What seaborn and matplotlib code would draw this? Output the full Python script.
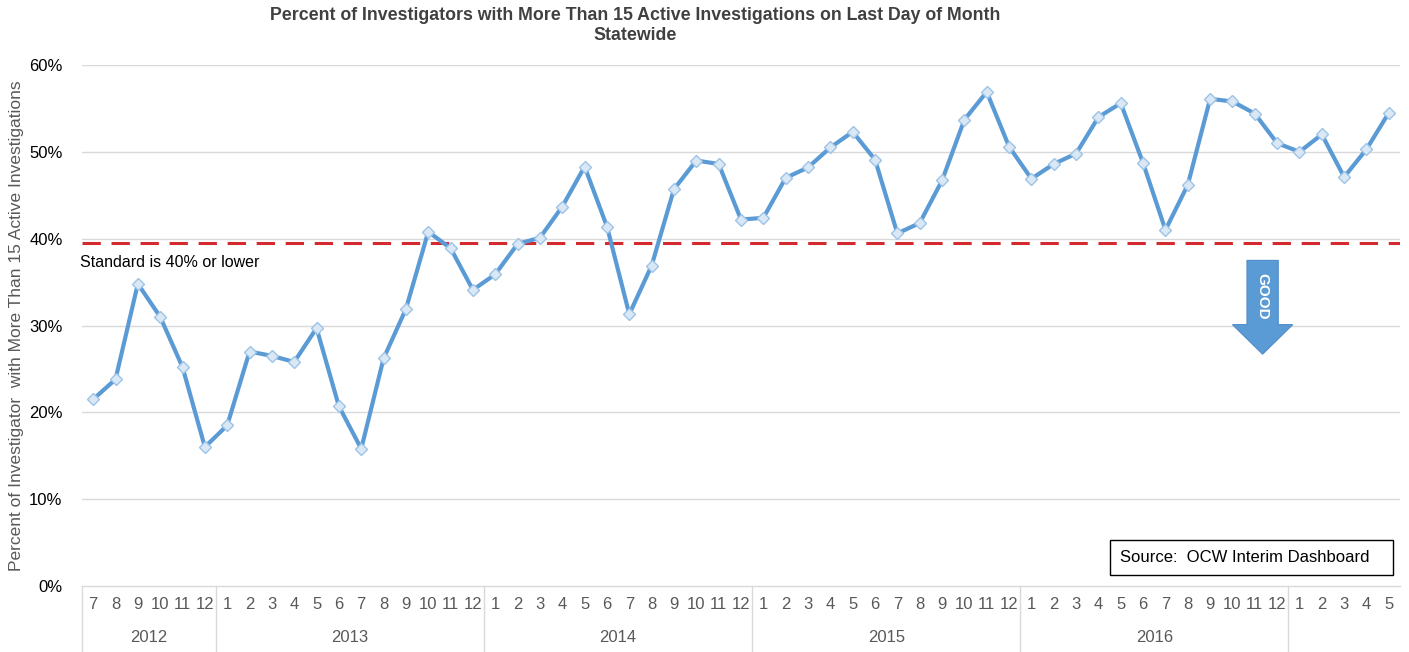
import numpy as np
import pandas as pd
import matplotlib
matplotlib.use("Agg")
import matplotlib.pyplot as plt
import seaborn as sns
from matplotlib.patches import FancyArrow, Rectangle
from matplotlib.transforms import blended_transform_factory

# ---- data ----
years = [2012] * 6 + [2013] * 12 + [2014] * 12 + [2015] * 12 + [2016] * 12 + [2017] * 5
months = list(range(7, 13)) + list(range(1, 13)) * 4 + list(range(1, 6))
pct = [21.5, 23.8, 34.8, 31.0, 25.2, 16.0,
       18.5, 27.0, 26.5, 25.8, 29.7, 20.7, 15.8, 26.2, 31.9, 40.8, 38.9, 34.1,
       35.9, 39.4, 40.1, 43.7, 48.3, 41.4, 31.3, 36.9, 45.7, 49.0, 48.6, 42.2,
       42.4, 47.0, 48.2, 50.5, 52.3, 49.1, 40.6, 41.8, 46.7, 53.7, 56.9, 50.6,
       46.9, 48.6, 49.8, 54.0, 55.6, 48.7, 41.0, 46.2, 56.1, 55.8, 54.4, 51.0,
       50.0, 52.0, 47.1, 50.3, 54.5]
year_labels = ["2012", "2013", "2014", "2015", "2016", ""]
standard = 39.5
yticks = [0, 10, 20, 30, 40, 50, 60]

df = pd.DataFrame({"idx": np.arange(len(pct)), "year": years, "month": months, "pct": pct})

sns.set_theme(style="white")
plt.rcParams["font.family"] = ["Liberation Sans", "DejaVu Sans"]

W, H = 1409, 652
fig = plt.figure(figsize=(W / 100, H / 100), dpi=100)
ax = fig.add_axes([82 / W, 1 - 586 / H, (1400 - 82) / W, (586 - 65) / H])

ax.set_xlim(-0.5, len(pct) - 0.5)
ax.set_ylim(0, 60)
for t in yticks[1:]:
    ax.axhline(t, color="#D9D9D9", lw=1, zorder=0)

ax.axhline(standard, color="#D42A2F", lw=2.2, dashes=(6, 3.5), zorder=2)

sns.lineplot(data=df, x="idx", y="pct", ax=ax, color="#5B9BD5", lw=3,
             marker="D", markersize=6, markerfacecolor="#DAE8F6",
             markeredgecolor="#9DC3E6", markeredgewidth=1, zorder=3)

ax.set_yticks(yticks)
ax.set_yticklabels([f"{t}%" for t in yticks], fontsize=12, color="#000000")
ax.tick_params(axis="y", length=0, pad=14)
ax.set_xticks(df["idx"])
ax.set_xticklabels([str(m) for m in months], fontsize=12, color="#595959")
ax.tick_params(axis="x", length=0, pad=8)
ax.set_xlabel("")
ax.set_ylabel("")
for s in ["top", "right", "left"]:
    ax.spines[s].set_visible(False)
ax.spines["bottom"].set_color("#D9D9D9")
ax.spines["bottom"].set_linewidth(1)

# year grouping
tr = blended_transform_factory(ax.transData, ax.transAxes)
bottom_ext = -(652 - 586) / (586 - 65)
yr_arr = np.array(years)
uniq = []
for y in years:
    if y not in uniq:
        uniq.append(y)
for i, y in enumerate(uniq):
    idxs = np.where(yr_arr == y)[0]
    left = idxs[0] - 0.5
    ax.plot([left, left], [0, bottom_ext], color="#D9D9D9", lw=1, transform=tr, clip_on=False)
    ax.text((idxs[0] + idxs[-1]) / 2, -(638 - 586) / (586 - 65), year_labels[i],
            transform=tr, ha="center", va="center", fontsize=12, color="#595959")

# annotations
ax.text(-0.6, 37.2, "Standard is 40% or lower", fontsize=11.5, color="#000000",
        ha="left", va="center")

arrow = FancyArrow(52.35, 37.5, 0, -10.8, width=1.4, head_width=2.7, head_length=3.4,
                   length_includes_head=True, color="#5B9BD5", ec="#4F8DC9", lw=0.8, zorder=4)
ax.add_patch(arrow)
ax.text(52.35, 33.4, "GOOD", rotation=-90, ha="center", va="center", color="white",
        fontsize=11, fontweight="bold", zorder=5)

# source box (axes fraction coords)
bx0 = (1110 - 82) / (1400 - 82)
bx1 = (1393 - 82) / (1400 - 82)
by0 = (586 - 575) / (586 - 65)
by1 = (586 - 540) / (586 - 65)
ax.add_patch(Rectangle((bx0, by0), bx1 - bx0, by1 - by0, transform=ax.transAxes,
                       fc="white", ec="#000000", lw=1, zorder=5))
ax.text(bx0 + 10 / (1400 - 82), (by0 + by1) / 2, "Source:  OCW Interim Dashboard",
        transform=ax.transAxes, fontsize=12, color="#000000",
        ha="left", va="center", zorder=6)

fig.text(17 / W, 1 - 326 / H, "Percent of Investigator  with More Than 15 Active Investigations",
         rotation=90, ha="center", va="center", fontsize=12.5, color="#595959")
fig.text(635 / W, 1 - 15 / H, "Percent of Investigators with More Than 15 Active Investigations on Last Day of Month",
         ha="center", va="center", fontsize=12.8, fontweight="bold", color="#404040")
fig.text(635 / W, 1 - 35 / H, "Statewide", ha="center", va="center", fontsize=12.8,
         fontweight="bold", color="#404040")

fig.savefig("out.png", dpi=100, facecolor="white")
